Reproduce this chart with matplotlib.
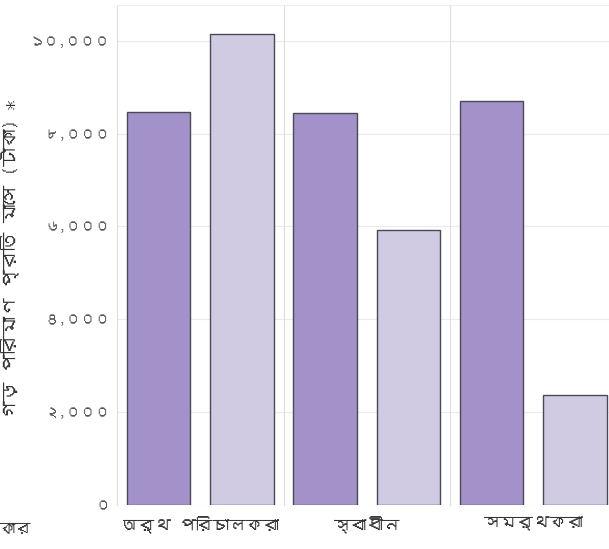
import matplotlib
matplotlib.use("Agg")
import matplotlib.pyplot as plt
from matplotlib import font_manager
from matplotlib.ft2font import FT2Font

groups = ["অর্থ পরিচালকরা", "স্বাধীন", "সমর্থকরা"]
dark_vals = [8460, 8440, 8700]
light_vals = [10150, 5930, 2370]
yticks = [0, 2000, 4000, 6000, 8000, 10000]
ytick_labels = ["০", "২,০০০", "৪,০০০", "৬,০০০", "৮,০০০", "১০,০০০"]
ylabel = "গড় পরিমাণ প্রতি মাসে (টাকা) *"
corner_text = "কার"

DARK = "#A391C9"
LIGHT = "#D0CAE3"
EDGE = "#4a4a55"
GRID = "#ebebeb"
TEXT = "#333333"


def bengali_family():
    # first installed font that actually has Bengali glyphs
    for f in font_manager.fontManager.ttflist:
        try:
            if 0x0985 in FT2Font(f.fname).get_charmap():
                return f.name
        except Exception:
            pass
    return None


fam = bengali_family()
plt.rcParams["font.family"] = [fam, "DejaVu Sans"] if fam else ["DejaVu Sans"]

W, H = 609, 549
fig = plt.figure(figsize=(W / 100, H / 100), dpi=100)

left, bottom, top = 117, 505, 5
pw = 166.5
for i in range(3):
    x0 = left + i * pw
    ax = fig.add_axes([x0 / W, 1 - bottom / H, pw / W, (bottom - top) / H])
    ax.bar([0, 1], [dark_vals[i], light_vals[i]], width=0.76,
           color=[DARK, LIGHT], edgecolor=EDGE, linewidth=1.0, zorder=3)
    ax.set_xlim(-0.5, 1.5)
    ax.set_ylim(0, 10770)
    ax.set_yticks(yticks)
    ax.grid(axis="y", color=GRID, linewidth=0.8, zorder=0)
    ax.set_xticks([0.5])
    ax.set_xticklabels([groups[i]], fontsize=12, color=TEXT)
    ax.tick_params(length=0, pad=8)
    for s in ["right", "bottom"]:
        ax.spines[s].set_visible(False)
    ax.spines["left"].set_color("#dddddd")
    ax.spines["left"].set_linewidth(0.8)
    ax.spines["top"].set_color("#eeeeee")
    if i == 0:
        ax.set_yticklabels(ytick_labels, fontsize=10.5, color="#555555")
        ax.tick_params(axis="y", pad=5)
        ax.set_ylabel(ylabel, fontsize=13.5, color=TEXT)
        ax.yaxis.set_label_coords((20 - x0) / pw, (bottom - 260) / (bottom - top))
    else:
        ax.set_yticklabels([])

fig.text(0, 1 - 530 / H, corner_text, fontsize=11, color=TEXT, ha="left", va="center")
fig.savefig("out.png", dpi=100)
